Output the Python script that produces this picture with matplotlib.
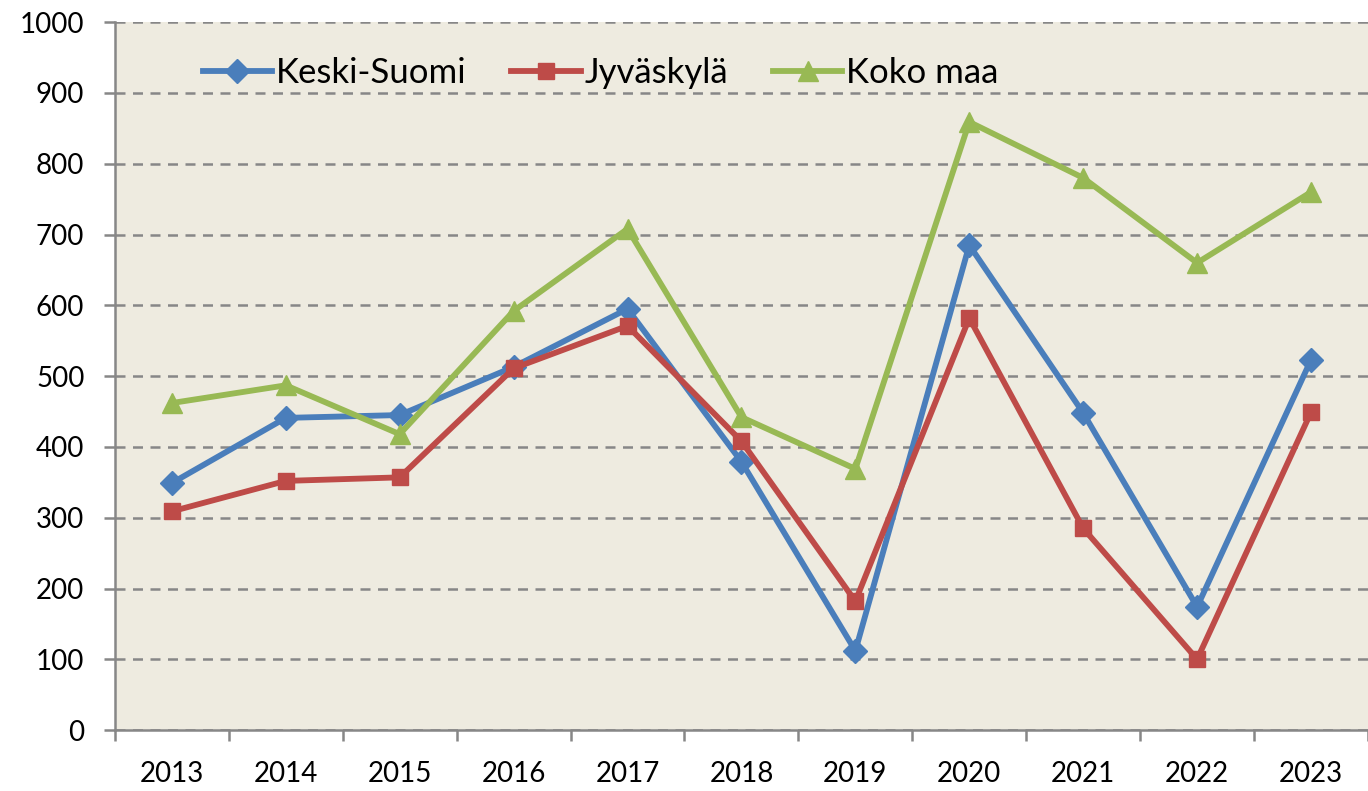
import numpy as np
import matplotlib
matplotlib.use("Agg")
import matplotlib.pyplot as plt

plt.rcParams['font.family'] = ['Lato', 'DejaVu Sans']

# Data
years = ['2013', '2014', '2015', '2016', '2017', '2018', '2019', '2020', '2021', '2022', '2023']
keski_suomi = [349, 441, 445, 513, 595, 379, 112, 685, 448, 174, 523]
jyvaskyla = [309, 352, 357, 511, 571, 408, 182, 582, 285, 100, 449]
koko_maa = [462, 487, 418, 592, 708, 442, 369, 859, 780, 660, 760]

x = np.arange(len(years))

fig = plt.figure(figsize=(13.68, 7.91), dpi=100)
ax = fig.add_axes([0.084, 0.077, 0.916, 0.895])
ax.set_facecolor('#EEEBE0')

ax.plot(x, keski_suomi, color='#4A7EBB', lw=4.2, marker='D', ms=12, label='Keski-Suomi', zorder=3)
ax.plot(x, jyvaskyla, color='#BE4B48', lw=4.2, marker='s', ms=11, label='Jyväskylä', zorder=3)
ax.plot(x, koko_maa, color='#98B954', lw=4.2, marker='^', ms=15, label='Koko maa', zorder=3)

ax.set_xlim(-0.5, len(years) - 0.5)
ax.set_ylim(0, 1000)
ax.set_yticks(np.arange(0, 1001, 100))
ax.yaxis.grid(True, linestyle=(0, (4, 3)), color='#878787', lw=1.8)
ax.set_axisbelow(True)

# category boundaries get the tick marks, labels sit in the middle
ax.set_xticks(np.arange(-0.5, len(years)))
ax.set_xticklabels([])
ax.set_xticks(x, minor=True)
ax.set_xticklabels(years, minor=True)
ax.tick_params(axis='x', which='major', length=8, width=1.8, color='#878787')
ax.tick_params(axis='x', which='minor', length=0, pad=22, labelsize=20)
ax.tick_params(axis='y', length=8, width=1.8, color='#878787', labelsize=20, pad=14)

for side in ['top', 'right']:
    ax.spines[side].set_visible(False)
for side in ['left', 'bottom']:
    ax.spines[side].set_color('#878787')
    ax.spines[side].set_linewidth(1.8)

ax.legend(loc='upper left', bbox_to_anchor=(0.045, 0.995), ncol=3, frameon=False,
          fontsize=25, handlelength=2.0, columnspacing=1.3, handletextpad=0.1)

fig.savefig('out.png', dpi=100)
